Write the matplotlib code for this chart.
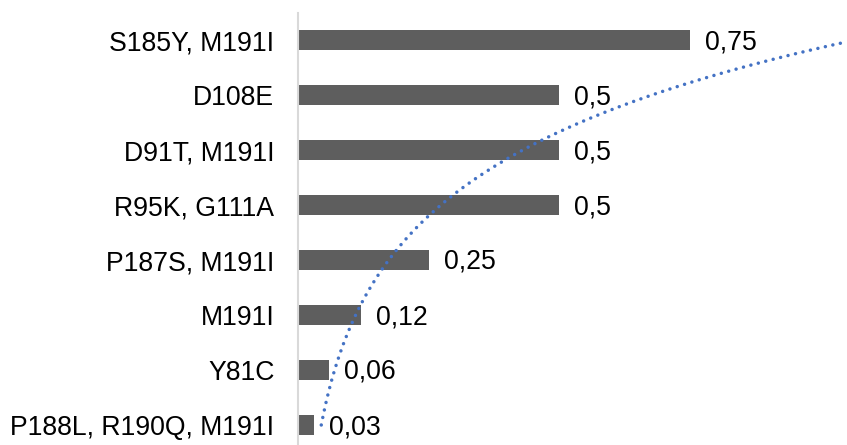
import numpy as np
import matplotlib
matplotlib.use("Agg")
import matplotlib.pyplot as plt

categories = ["P188L, R190Q, M191I", "Y81C", "M191I", "P187S, M191I",
              "R95K, G111A", "D91T, M191I", "D108E", "S185Y, M191I"]
values = [0.03, 0.06, 0.12, 0.25, 0.5, 0.5, 0.5, 0.75]
value_labels = ["0,03", "0,06", "0,12", "0,25", "0,5", "0,5", "0,5", "0,75"]

plt.rcParams['font.family'] = ['Liberation Sans', 'DejaVu Sans']

W, H = 847, 445
fig = plt.figure(figsize=(W / 100, H / 100), dpi=100)
left_px, right_px = 298, 844
top_px, bottom_px = 12.5, 452.5
ax = fig.add_axes([left_px / W, (H - bottom_px) / H,
                   (right_px - left_px) / W, (bottom_px - top_px) / H])

y = np.arange(len(categories))
ax.barh(y, values, height=0.36, color='#5e5e5e', zorder=2)

for yi, v, lab in zip(y, values, value_labels):
    ax.annotate(lab, xy=(v, yi), xytext=(15, -2), textcoords='offset pixels',
                ha='left', va='center', fontsize=19.2, color='#000000')

# Exponential trendline (Excel style) fitted on category index
xi = np.arange(1, len(values) + 1)
k, lnc = np.polyfit(xi, np.log(values), 1)
xs = np.linspace(1, len(values), 300)
trend = np.exp(lnc + k * xs)
ax.plot(trend, xs - 1, color='#4472C4', lw=2.5,
        ls=(0, (0.01, 2.2)), dash_capstyle='round', zorder=3)

ax.set_xlim(0, (right_px - left_px) / 522.7)
ax.set_ylim(-0.5, len(categories) - 0.5)
ax.set_yticks(y)
ax.set_yticklabels(categories, fontsize=19.2)
ax.tick_params(axis='y', length=0, pad=17)
ax.set_xticks([])
for s in ['top', 'right', 'bottom']:
    ax.spines[s].set_visible(False)
ax.spines['left'].set_color('#d9d9d9')
ax.spines['left'].set_linewidth(1.5)

fig.savefig('out.png', dpi=100)
